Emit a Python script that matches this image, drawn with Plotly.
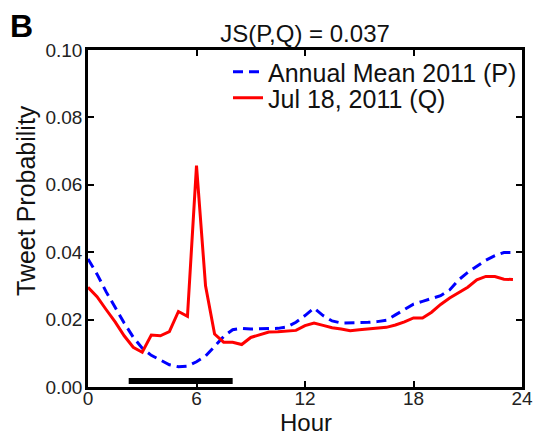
import plotly.graph_objects as go

hours = [i * 0.5 for i in range(48)]

annual_mean_p = [
    0.0380, 0.0335, 0.0283, 0.0235, 0.0190, 0.0148, 0.0115, 0.0094,
    0.0080, 0.0066, 0.0060, 0.0062, 0.0075, 0.0092, 0.0120, 0.0150,
    0.0170, 0.0174, 0.0172, 0.0172, 0.0173, 0.0174, 0.0178, 0.0192,
    0.0212, 0.0234, 0.0212, 0.0196, 0.0190, 0.0190, 0.0191, 0.0192,
    0.0194, 0.0198, 0.0214, 0.0230, 0.0246, 0.0254, 0.0262, 0.0271,
    0.0288, 0.0318, 0.0340, 0.0358, 0.0376, 0.0390, 0.0399, 0.0399,
]

jul18_q = [
    0.0296, 0.0268, 0.0230, 0.0193, 0.0152, 0.0118, 0.0103, 0.0154,
    0.0152, 0.0164, 0.0224, 0.0210, 0.0657, 0.0300, 0.0157, 0.0133,
    0.0133, 0.0126, 0.0147, 0.0154, 0.0163, 0.0164, 0.0165, 0.0168,
    0.0182, 0.0190, 0.0183, 0.0176, 0.0172, 0.0167, 0.0170, 0.0172,
    0.0175, 0.0177, 0.0184, 0.0193, 0.0205, 0.0205, 0.0222, 0.0245,
    0.0264, 0.0280, 0.0296, 0.0318, 0.0328, 0.0328, 0.0320, 0.0319,
]

# highlighted time window (black bar)
bar_hours = [2.25, 8.0]
bar_level = [0.0018, 0.0018]

x_ticks = [0, 6, 12, 18, 24]
y_ticks = [0.00, 0.02, 0.04, 0.06, 0.08, 0.10]

FONT = "Liberation Sans, Arial, sans-serif"
TXT = "#111111"

W, H = 534, 435
L, R, T, B = 88, 12, 50, 48
PW, PH = W - L - R, H - T - B


def px_x(p):
    return (p - L) / PW


def px_y(p):
    return (T + PH - p) / PH


fig = go.Figure()
fig.add_trace(go.Scatter(
    x=hours, y=annual_mean_p, mode="lines", name="Annual Mean 2011 (P)",
    line=dict(color="#0000ff", width=3, dash="10px,6px"), legend="legend",
))
fig.add_trace(go.Scatter(
    x=hours, y=jul18_q, mode="lines", name="Jul 18, 2011 (Q)",
    line=dict(color="#ff0000", width=3), legend="legend2",
))
fig.add_trace(go.Scatter(
    x=bar_hours, y=bar_level, mode="lines", showlegend=False,
    line=dict(color="#000000", width=6),
))

axis_common = dict(
    showgrid=False, zeroline=False, showline=True, linecolor="#000000",
    linewidth=2.5, mirror="ticks", ticks="inside", ticklen=6, tickwidth=2,
    tickcolor="#000000", tickfont=dict(family=FONT, size=19, color="#222222"),
    automargin=False,
)

legend_common = dict(
    xanchor="left", yanchor="top", bgcolor="rgba(0,0,0,0)", borderwidth=0,
    font=dict(family=FONT, size=25, color=TXT), itemwidth=30,
)

fig.update_layout(
    width=W, height=H,
    margin=dict(l=L, r=R, t=T, b=B, autoexpand=False),
    paper_bgcolor="white", plot_bgcolor="white",
    font=dict(family=FONT, color=TXT),
    title=dict(text="JS(P,Q) = 0.037", x=0.5, xref="paper", xanchor="center",
               y=1 - 34 / H, yref="container", yanchor="middle",
               font=dict(family=FONT, size=24, color=TXT)),
    xaxis=dict(range=[0, 24], tickvals=x_ticks, ticktext=[str(t) for t in x_ticks],
               ticklabelstandoff=-8, **axis_common),
    yaxis=dict(range=[0, 0.1], tickvals=y_ticks, ticktext=[f"{t:.2f}" for t in y_ticks],
               ticklabelstandoff=-1, **axis_common),
    legend=dict(x=px_x(228), y=px_y(49), **legend_common),
    legend2=dict(x=px_x(228), y=px_y(75), **legend_common),
    annotations=[
        dict(text="<b>B</b>", x=px_x(8), y=px_y(6), xref="paper", yref="paper",
             xanchor="left", yanchor="top", showarrow=False,
             font=dict(family=FONT, size=32, color="#000000")),
        dict(text="Hour", x=px_x(306), y=px_y(423), xref="paper", yref="paper",
             xanchor="center", yanchor="middle", showarrow=False,
             font=dict(family=FONT, size=24, color=TXT)),
        dict(text="Tweet Probability", x=px_x(26), y=px_y(201), xref="paper", yref="paper",
             xanchor="center", yanchor="middle", textangle=-90, showarrow=False,
             font=dict(family=FONT, size=25, color=TXT)),
    ],
)

fig.write_html("out.html")
